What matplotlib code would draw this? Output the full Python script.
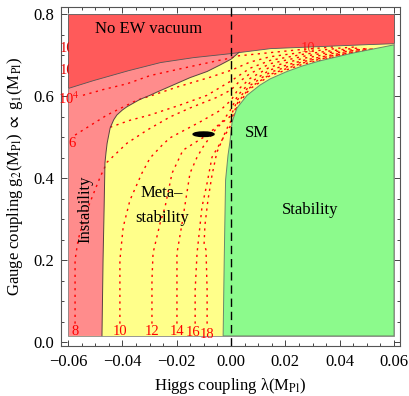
import numpy as np
import matplotlib
matplotlib.use("Agg")
import matplotlib.pyplot as plt
from matplotlib.patches import Ellipse
from matplotlib.transforms import Bbox, TransformedBbox

plt.rcParams['font.family'] = ['Liberation Serif', 'DejaVu Serif']
plt.rcParams['mathtext.fontset'] = 'stix'

# boundaries of the phase regions (lambda, g)
g_min, g_max = 0.015, 0.8
lam_min, lam_max = -0.06, 0.06

ew_lam = [-0.06, -0.0508, -0.038, -0.0261, -0.014, 0.0, 0.0144, 0.0328, 0.0512, 0.06]
ew_g = [0.62, 0.639, 0.663, 0.683, 0.695, 0.705, 0.717, 0.722, 0.727, 0.729]

inst_lam = [-0.0475, -0.0471, -0.0467, -0.0464, -0.0460, -0.0456, -0.0445, -0.0432, -0.0420,
            -0.0400, -0.0383, -0.0335, -0.0298, -0.0272, -0.0213, -0.0151, -0.0088, -0.0040,
            0.0000, 0.0030]
inst_g = [0.015, 0.200, 0.330, 0.437, 0.463, 0.485, 0.522, 0.542, 0.554,
          0.566, 0.574, 0.592, 0.602, 0.610, 0.627, 0.645, 0.660, 0.676,
          0.690, 0.707]

stab_lam = [-0.0029, -0.0025, -0.0020, -0.0011, -0.0004, 0.0004, 0.0022, 0.0059, 0.0107,
            0.0144, 0.0206, 0.0265, 0.0328, 0.0449, 0.06]
stab_g = [0.015, 0.20, 0.395, 0.456, 0.488, 0.537, 0.571, 0.602, 0.627,
          0.642, 0.660, 0.674, 0.686, 0.705, 0.725]

# dotted lifetime contours
contours = {
    '10^4': ([-0.0545, -0.0470, -0.0383, -0.0298, -0.0177, -0.0052, 0.0000, 0.0025, 0.0144, 0.0265, 0.0380],
             [0.602, 0.616, 0.630, 0.650, 0.668, 0.686, 0.693, 0.698, 0.706, 0.714, 0.720]),
    '6': ([-0.0574, -0.0456, -0.0346, -0.0298, -0.0199, -0.0077, 0.0000, 0.0025, 0.0070, 0.0144, 0.0265, 0.0400, 0.0460],
          [0.505, 0.554, 0.590, 0.600, 0.622, 0.646, 0.663, 0.670, 0.683, 0.696, 0.707, 0.717, 0.720]),
    '7': ([-0.0445, -0.0372, -0.0298, -0.0188, -0.0088, 0.0000, 0.0025, 0.0070, 0.0144, 0.0265, 0.0400, 0.0480],
          [0.524, 0.541, 0.554, 0.578, 0.602, 0.637, 0.648, 0.668, 0.687, 0.702, 0.713, 0.718]),
    '8': ([-0.0574, -0.0574, -0.0563, -0.0537, -0.0508, -0.0482, -0.0456, -0.0383, -0.0309, -0.0225, -0.0151,
           -0.0052, 0.0000, 0.0025, 0.0070, 0.0144, 0.0265, 0.0400, 0.0500],
          [0.045, 0.200, 0.249, 0.310, 0.359, 0.402, 0.439, 0.485, 0.517, 0.549, 0.571,
           0.597, 0.615, 0.632, 0.655, 0.679, 0.697, 0.710, 0.716]),
    '10': ([-0.0409, -0.0409, -0.0397, -0.0372, -0.0328, -0.0298, -0.0254, -0.0225, -0.0114, -0.0040,
            0.0000, 0.0025, 0.0070, 0.0144, 0.0265, 0.0400, 0.0510],
           [0.045, 0.200, 0.280, 0.346, 0.412, 0.449, 0.480, 0.498, 0.537, 0.565,
            0.590, 0.615, 0.643, 0.671, 0.692, 0.707, 0.716]),
    '12': ([-0.0291, -0.0291, -0.0287, -0.0261, -0.0243, -0.0217, -0.0177, -0.0088, -0.0029,
            0.0000, 0.0025, 0.0070, 0.0144, 0.0265, 0.0400, 0.0520],
           [0.045, 0.151, 0.217, 0.290, 0.329, 0.412, 0.468, 0.505, 0.540,
            0.568, 0.602, 0.633, 0.664, 0.687, 0.704, 0.715]),
    '14': ([-0.0199, -0.0199, -0.0199, -0.0180, -0.0151, -0.0125, -0.0103, -0.0085, -0.0059, -0.0033,
            0.0000, 0.0025, 0.0070, 0.0144, 0.0265, 0.0400, 0.0530],
           [0.045, 0.151, 0.217, 0.290, 0.412, 0.451, 0.476, 0.493, 0.517, 0.535,
            0.552, 0.592, 0.626, 0.658, 0.684, 0.702, 0.716]),
    '16': ([-0.0132, -0.0132, -0.0125, -0.0114, -0.0107, -0.0088, -0.0070, -0.0048, -0.0033, -0.0018,
            0.0000, 0.0025, 0.0070, 0.0144, 0.0265, 0.0400, 0.0520],
           [0.045, 0.127, 0.217, 0.285, 0.329, 0.388, 0.451, 0.476, 0.493, 0.517,
            0.540, 0.585, 0.621, 0.653, 0.681, 0.700, 0.713]),
    '18': ([-0.0088, -0.0088, -0.0092, -0.0099, -0.0096, -0.0085, -0.0070, -0.0052, -0.0029, -0.0011,
            0.0000, 0.0025, 0.0070, 0.0144, 0.0265, 0.0400, 0.0500],
           [0.045, 0.127, 0.224, 0.241, 0.285, 0.346, 0.407, 0.463, 0.498, 0.517,
            0.530, 0.580, 0.618, 0.650, 0.678, 0.698, 0.710]),
}

bottom_labels = ['8', '10', '12', '14', '16', '18']
bottom_lam = [-0.0574, -0.0409, -0.0291, -0.0199, -0.0140, -0.0088]
bottom_g = [0.026, 0.026, 0.026, 0.026, 0.024, 0.019]

sm_point = (-0.0101, 0.507)

red = '#ff5a5a'
pink = '#ff8c8c'
yellow = '#ffff8a'
green = '#8cfa8c'
edge = '#555555'

fig = plt.figure(figsize=(4.09, 3.96), dpi=100)
ax = fig.add_axes([0.149, 0.126, 0.829, 0.856])

ew_lam_a = np.array(ew_lam)
ew_g_a = np.array(ew_g)

# yellow background (metastability) and red top (no EW vacuum)
ax.fill_between(ew_lam_a, g_min, ew_g_a, color=yellow, lw=0, zorder=1)
ax.fill_between(ew_lam_a, ew_g_a, g_max, facecolor=red, edgecolor=edge, lw=0.6, zorder=3)

# pink instability region
keep = ew_lam_a < inst_lam[-1]
px = [lam_min] + list(ew_lam_a[keep]) + inst_lam[::-1]
py = [g_min] + list(ew_g_a[keep]) + inst_g[::-1]
ax.fill(px, py, facecolor=pink, edgecolor='none', zorder=1.2)
ax.plot(inst_lam, inst_g, color='#5a4040', lw=0.7, zorder=4)

# green stability region
gx = stab_lam + [lam_max, stab_lam[0]]
gy = stab_g + [g_min, g_min]
ax.fill(gx, gy, facecolor=green, edgecolor='#6a8a6a', lw=0.7, zorder=3)

# outer edge of the region plot
ax.plot([lam_min, lam_min, lam_max, lam_max], [ew_g[0], g_min, g_min, ew_g[-1]],
        color='#888888', lw=0.6, zorder=4)

for name, (cx, cy) in contours.items():
    ax.plot(cx, cy, color='red', lw=1.0, ls=(0, (1.6, 3.2)), zorder=2)

for lab, lx, ly in zip(bottom_labels, bottom_lam, bottom_g):
    ax.text(lx, ly, lab, color='red', fontsize=10.5, ha='center', va='center', zorder=5)

ax.text(-0.0637, 0.593, '10$^4$', color='red', fontsize=10.5, ha='left', va='center',
        clip_on=False, zorder=5)
ax.text(-0.0585, 0.485, '6', color='red', fontsize=10.5, ha='center', va='center', zorder=5)
# contour labels cut off at the left edge
clip_box = TransformedBbox(Bbox([[-0.07, 0.0], [-0.0596, 0.8]]), ax.transData)
for ly in [0.717, 0.663]:
    t = ax.text(-0.0630, ly, '10', color='#e00000', fontsize=10.5, ha='left', va='center',
                zorder=5)
    t.set_clip_on(True)
    t.set_clip_box(clip_box)
    t.set_clip_path(None)
ax.text(0.0283, 0.717, '10', color='red', fontsize=10.5, ha='center', va='center',
        alpha=0.75, zorder=5)

ax.axvline(0.0, color='black', lw=1.0, dashes=(6, 3.5), zorder=6)
ax.add_patch(Ellipse(sm_point, 0.0077, 0.011, color='black', zorder=6))

ax.text(-0.0305, 0.763, 'No EW vacuum', fontsize=12, ha='center', va='center', zorder=6)
ax.text(0.0096, 0.51, 'SM', fontsize=12, ha='center', va='center', zorder=6)
ax.text(0.029, 0.322, 'Stability', fontsize=12, ha='center', va='center', zorder=6)
ax.text(-0.0254, 0.363, 'Meta\u2013', fontsize=12, ha='center', va='center', zorder=6)
ax.text(-0.0254, 0.302, 'stability', fontsize=12, ha='center', va='center', zorder=6)
ax.text(-0.0537, 0.325, 'Instability', fontsize=12, ha='center', va='center',
        rotation=90, zorder=6)

ax.set_xlim(-0.0626, 0.0622)
ax.set_ylim(-0.0098, 0.817)
ax.set_xticks(np.arange(-0.06, 0.061, 0.02))
ax.set_xticklabels(['\u22120.06', '\u22120.04', '\u22120.02', '0.00', '0.02', '0.04', '0.06'])
ax.set_xticks(np.arange(-0.06, 0.061, 0.005), minor=True)
ax.set_yticks(np.arange(0, 0.81, 0.2))
ax.set_yticklabels(['0.0', '0.2', '0.4', '0.6', '0.8'])
ax.set_yticks(np.arange(0, 0.81, 0.05), minor=True)
ax.tick_params(which='both', direction='in', top=True, right=True, labelsize=12,
               color='#444444', width=0.7)
ax.tick_params(which='major', length=4)
ax.tick_params(which='minor', length=2.2)
ax.tick_params(axis='x', which='major', pad=6)
ax.tick_params(axis='y', which='major', pad=5)
for s in ax.spines.values():
    s.set_color('#555555')
    s.set_linewidth(0.8)

ax.set_xlabel('Higgs coupling \u03bb(M$_{\\rm Pl}$)', fontsize=12, labelpad=4)
ax.set_ylabel('Gauge coupling g$_2$(M$_{\\rm Pl}$) $\\propto$ g$_1$(M$_{\\rm Pl}$)',
              fontsize=12, labelpad=6)

fig.savefig('out.png', dpi=100)
